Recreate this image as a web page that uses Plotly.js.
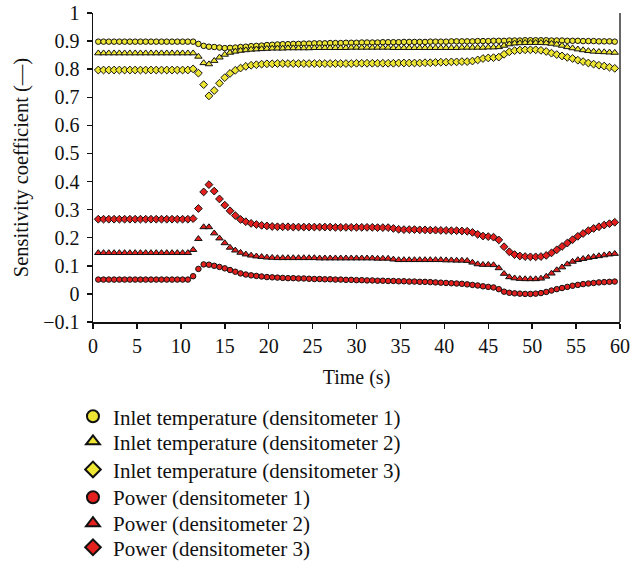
<!DOCTYPE html>
<html>
<head>
<meta charset="utf-8">
<script src="https://cdn.plot.ly/plotly-3.0.1.min.js"></script>
<style>
  html, body { margin: 0; padding: 0; background: #fff; }
  #chart { width: 630px; height: 564px; }
</style>
</head>
<body>
<div id="chart"></div>
<script>
// Sample times (s)
const time = [
  0.6, 1.2, 1.8, 2.4, 3.0, 3.6, 4.2, 4.8, 5.4, 6.0,
  6.6, 7.2, 7.8, 8.4, 9.0, 9.6, 10.2, 10.8, 11.4, 12.0,
  12.6, 13.2, 13.8, 14.4, 15.0, 15.6, 16.2, 16.8, 17.4, 18.0,
  18.6, 19.2, 19.8, 20.4, 21.0, 21.6, 22.2, 22.8, 23.4, 24.0,
  24.6, 25.2, 25.8, 26.4, 27.0, 27.6, 28.2, 28.8, 29.4, 30.0,
  30.6, 31.2, 31.8, 32.4, 33.0, 33.6, 34.2, 34.8, 35.4, 36.0,
  36.6, 37.2, 37.8, 38.4, 39.0, 39.6, 40.2, 40.8, 41.4, 42.0,
  42.6, 43.2, 43.8, 44.4, 45.0, 45.6, 46.2, 46.8, 47.4, 48.0,
  48.6, 49.2, 49.8, 50.4, 51.0, 51.6, 52.2, 52.8, 53.4, 54.0,
  54.6, 55.2, 55.8, 56.4, 57.0, 57.6, 58.2, 58.8, 59.4
];

// Inlet temperature sensitivity, densitometers 1-3
const inletD1 = [
  0.898, 0.898, 0.898, 0.898, 0.898, 0.898, 0.898, 0.898, 0.898, 0.898,
  0.898, 0.898, 0.898, 0.898, 0.898, 0.898, 0.898, 0.898, 0.898, 0.890,
  0.883, 0.880, 0.879, 0.877, 0.875, 0.876, 0.877, 0.879, 0.880, 0.882,
  0.883, 0.884, 0.886, 0.887, 0.888, 0.889, 0.889, 0.890, 0.890, 0.891,
  0.891, 0.892, 0.892, 0.892, 0.893, 0.893, 0.893, 0.894, 0.894, 0.894,
  0.895, 0.895, 0.895, 0.895, 0.896, 0.896, 0.896, 0.896, 0.897, 0.897,
  0.897, 0.897, 0.897, 0.898, 0.898, 0.898, 0.898, 0.899, 0.899, 0.899,
  0.899, 0.899, 0.900, 0.900, 0.900, 0.901, 0.901, 0.901, 0.902, 0.902,
  0.902, 0.903, 0.903, 0.903, 0.903, 0.903, 0.902, 0.902, 0.902, 0.901,
  0.901, 0.901, 0.900, 0.900, 0.900, 0.899, 0.899, 0.899, 0.898
];
const inletD2 = [
  0.857, 0.857, 0.857, 0.857, 0.857, 0.857, 0.857, 0.857, 0.857, 0.857,
  0.857, 0.857, 0.857, 0.857, 0.857, 0.857, 0.857, 0.857, 0.857, 0.845,
  0.822, 0.818, 0.830, 0.842, 0.852, 0.859, 0.863, 0.866, 0.868, 0.870,
  0.871, 0.872, 0.873, 0.874, 0.874, 0.874, 0.875, 0.875, 0.875, 0.875,
  0.875, 0.876, 0.876, 0.876, 0.876, 0.876, 0.876, 0.876, 0.877, 0.877,
  0.877, 0.877, 0.877, 0.877, 0.877, 0.877, 0.876, 0.876, 0.876, 0.876,
  0.876, 0.876, 0.876, 0.876, 0.876, 0.876, 0.876, 0.876, 0.876, 0.877,
  0.877, 0.877, 0.877, 0.877, 0.878, 0.878, 0.879, 0.884, 0.889, 0.892,
  0.893, 0.894, 0.894, 0.894, 0.894, 0.893, 0.891, 0.888, 0.884, 0.879,
  0.875, 0.871, 0.868, 0.865, 0.863, 0.862, 0.861, 0.860, 0.859
];
const inletD3 = [
  0.797, 0.797, 0.797, 0.797, 0.797, 0.797, 0.797, 0.797, 0.797, 0.797,
  0.797, 0.797, 0.797, 0.797, 0.797, 0.797, 0.797, 0.797, 0.801, 0.786,
  0.745, 0.705, 0.724, 0.750, 0.770, 0.785, 0.796, 0.804, 0.810, 0.814,
  0.816, 0.818, 0.819, 0.819, 0.820, 0.820, 0.820, 0.820, 0.820, 0.820,
  0.820, 0.820, 0.820, 0.820, 0.820, 0.820, 0.820, 0.820, 0.820, 0.821,
  0.821, 0.821, 0.821, 0.821, 0.821, 0.821, 0.821, 0.822, 0.822, 0.822,
  0.822, 0.822, 0.823, 0.823, 0.824, 0.825, 0.825, 0.826, 0.826, 0.827,
  0.827, 0.829, 0.833, 0.838, 0.840, 0.841, 0.843, 0.853, 0.862, 0.866,
  0.868, 0.869, 0.869, 0.869, 0.867, 0.863, 0.857, 0.852, 0.847, 0.842,
  0.838, 0.832, 0.827, 0.822, 0.818, 0.814, 0.811, 0.807, 0.803
];

// Power sensitivity, densitometers 1-3
const powerD1 = [
  0.051, 0.051, 0.051, 0.051, 0.051, 0.051, 0.051, 0.051, 0.051, 0.051,
  0.051, 0.051, 0.051, 0.051, 0.051, 0.051, 0.051, 0.051, 0.063, 0.089,
  0.105, 0.104, 0.100, 0.096, 0.091, 0.085, 0.079, 0.073, 0.069, 0.066,
  0.064, 0.062, 0.060, 0.059, 0.058, 0.057, 0.056, 0.056, 0.055, 0.055,
  0.054, 0.053, 0.053, 0.052, 0.052, 0.051, 0.051, 0.050, 0.050, 0.049,
  0.049, 0.048, 0.048, 0.047, 0.047, 0.046, 0.046, 0.045, 0.045, 0.044,
  0.044, 0.043, 0.043, 0.042, 0.041, 0.040, 0.039, 0.038, 0.037, 0.036,
  0.034, 0.032, 0.030, 0.027, 0.025, 0.023, 0.017, 0.008, 0.004, 0.002,
  0.001, 0.000, 0.000, 0.001, 0.003, 0.007, 0.012, 0.017, 0.021, 0.025,
  0.029, 0.032, 0.035, 0.037, 0.039, 0.041, 0.042, 0.043, 0.044
];
const powerD2 = [
  0.146, 0.146, 0.146, 0.146, 0.146, 0.146, 0.146, 0.146, 0.146, 0.146,
  0.146, 0.146, 0.146, 0.146, 0.146, 0.146, 0.146, 0.146, 0.157, 0.196,
  0.238, 0.238, 0.216, 0.198, 0.181, 0.165, 0.155, 0.147, 0.141, 0.137,
  0.134, 0.132, 0.130, 0.129, 0.128, 0.128, 0.128, 0.128, 0.128, 0.128,
  0.128, 0.128, 0.127, 0.127, 0.127, 0.127, 0.127, 0.127, 0.127, 0.127,
  0.127, 0.127, 0.127, 0.126, 0.126, 0.126, 0.123, 0.121, 0.121, 0.121,
  0.121, 0.121, 0.121, 0.121, 0.121, 0.121, 0.120, 0.120, 0.119, 0.119,
  0.118, 0.112, 0.106, 0.104, 0.104, 0.103, 0.092, 0.072, 0.060, 0.056,
  0.054, 0.053, 0.053, 0.053, 0.055, 0.062, 0.073, 0.085, 0.095, 0.106,
  0.115, 0.121, 0.125, 0.129, 0.132, 0.135, 0.138, 0.141, 0.143
];
const powerD3 = [
  0.266, 0.266, 0.266, 0.266, 0.266, 0.266, 0.266, 0.266, 0.266, 0.266,
  0.266, 0.266, 0.266, 0.266, 0.266, 0.266, 0.266, 0.266, 0.268, 0.304,
  0.363, 0.389, 0.366, 0.338, 0.316, 0.296, 0.279, 0.265, 0.257, 0.251,
  0.247, 0.244, 0.242, 0.240, 0.239, 0.239, 0.239, 0.238, 0.238, 0.238,
  0.238, 0.238, 0.238, 0.238, 0.238, 0.237, 0.237, 0.237, 0.237, 0.237,
  0.237, 0.237, 0.237, 0.236, 0.236, 0.236, 0.233, 0.230, 0.229, 0.229,
  0.229, 0.228, 0.228, 0.227, 0.227, 0.226, 0.226, 0.225, 0.225, 0.224,
  0.223, 0.219, 0.212, 0.206, 0.204, 0.202, 0.192, 0.168, 0.150, 0.140,
  0.135, 0.133, 0.132, 0.132, 0.133, 0.137, 0.146, 0.157, 0.169, 0.181,
  0.193, 0.205, 0.215, 0.225, 0.233, 0.239, 0.245, 0.250, 0.255
];

const seriesNames = [
  "Inlet temperature (densitometer 1)",
  "Inlet temperature (densitometer 2)",
  "Inlet temperature (densitometer 3)",
  "Power (densitometer 1)",
  "Power (densitometer 2)",
  "Power (densitometer 3)"
];
const xTicks = [0, 5, 10, 15, 20, 25, 30, 35, 40, 45, 50, 55, 60];
const yTicks = [-0.1, 0, 0.1, 0.2, 0.3, 0.4, 0.5, 0.6, 0.7, 0.8, 0.9, 1];

const YELLOW = "#efe634";
const RED = "#e3201e";
const FONT = "Liberation Serif, Times New Roman, serif";
const INK = "#111";

// Each key entry gets its own legend box so the rows can be spaced freely
const legendIds = ["legend", "legend2", "legend3", "legend4", "legend5", "legend6"];
const legendTops = [-0.240, -0.321, -0.412, -0.502, -0.586, -0.664];

function series(y, k, symbol, color, size) {
  return {
    type: "scatter",
    mode: "markers",
    x: time,
    y: y,
    name: seriesNames[k],
    legend: legendIds[k],
    cliponaxis: false,
    marker: {
      symbol: symbol,
      size: size,
      color: color,
      line: { color: INK, width: 1 }
    }
  };
}

const traces = [
  series(inletD1, 0, "circle", YELLOW, 5.5),
  series(inletD2, 1, "triangle-up", YELLOW, 6.5),
  series(inletD3, 2, "diamond", YELLOW, 6),
  series(powerD1, 3, "circle", RED, 5.5),
  series(powerD2, 4, "triangle-up", RED, 6.5),
  series(powerD3, 5, "diamond", RED, 6)
];

const layout = {
  width: 630,
  height: 564,
  margin: { l: 93, r: 10, t: 13, b: 242, autoexpand: false },
  paper_bgcolor: "#fff",
  plot_bgcolor: "#fff",
  font: { family: FONT, size: 20, color: INK },
  showlegend: true,
  xaxis: {
    range: [0, 60],
    tickvals: xTicks,
    ticks: "outside",
    ticklen: 5,
    tickwidth: 1.5,
    tickcolor: INK,
    showline: true,
    linecolor: INK,
    linewidth: 1.5,
    showgrid: false,
    zeroline: false,
    tickfont: { family: FONT, size: 20, color: INK },
    title: { text: "Time (s)", font: { family: FONT, size: 20, color: INK }, standoff: 14 }
  },
  yaxis: {
    range: [-0.1, 1],
    tickvals: yTicks,
    ticks: "outside",
    ticklen: 5,
    tickwidth: 1.5,
    tickcolor: INK,
    showline: true,
    linecolor: INK,
    linewidth: 1.5,
    showgrid: false,
    zeroline: false,
    ticklabelstandoff: 3,
    tickfont: { family: FONT, size: 20, color: INK },
    title: { text: "Sensitivity coefficient (\u2014)", font: { family: FONT, size: 20.5, color: INK }, standoff: 9 }
  },
  shapes: [
    {
      type: "line", xref: "paper", yref: "paper",
      x0: 1, x1: 1, y0: 0, y1: 1,
      line: { color: "#666", width: 2 }
    }
  ]
};

legendIds.forEach(function (id, k) {
  layout[id] = {
    x: -0.038,
    y: legendTops[k],
    xanchor: "left",
    yanchor: "top",
    orientation: "v",
    itemsizing: "constant",
    font: { family: FONT, size: 21, color: INK },
    bgcolor: "rgba(0,0,0,0)"
  };
});

Plotly.newPlot("chart", traces, layout, { displayModeBar: false, staticPlot: true });
</script>
</body>
</html>
